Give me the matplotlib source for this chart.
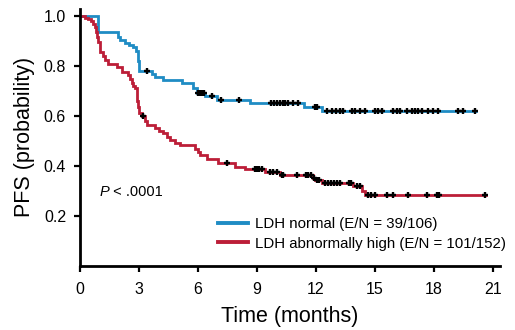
import numpy as np
import matplotlib
matplotlib.use("Agg")
import matplotlib.pyplot as plt
from matplotlib.lines import Line2D

plt.rcParams['font.family'] = ['Liberation Sans', 'DejaVu Sans']

# Kaplan-Meier step data: event times (months) and survival after each step
normal_times = [0, 0.93, 1.95, 2.05, 2.29, 2.5, 2.71, 2.85, 2.95, 3.02, 3.64, 3.81, 4.24,
                5.17, 5.76, 5.93, 6.36, 6.95, 8.64, 11.4, 12.29]
normal_surv = [1.0, 0.937, 0.915, 0.904, 0.893, 0.885, 0.877, 0.86, 0.82, 0.78, 0.768, 0.756, 0.744,
               0.731, 0.711, 0.693, 0.68, 0.664, 0.651, 0.637, 0.621]
normal_end = 20.15
normal_censor = [3.39, 6.0, 6.1, 6.2, 6.3, 6.7, 7.15, 8.1,
                 9.7, 9.85, 10.0, 10.15, 10.3, 10.45, 10.6, 10.85, 11.1, 11.95, 12.05,
                 12.54, 12.80, 13.02, 13.22, 13.39, 13.81, 13.98, 14.24, 14.49,
                 15.0, 15.17, 15.34, 15.93, 16.10, 16.27, 16.61, 16.86, 17.03, 17.2, 17.37,
                 17.71, 17.97, 18.22, 19.24, 19.46, 20.08]

high_times = [0, 0.25, 0.42, 0.55, 0.68, 0.75, 0.80, 0.85, 0.92, 1.02, 1.15, 1.27, 1.44,
              1.87, 2.12, 2.46, 2.55, 2.63, 2.72, 2.80, 2.88, 2.92, 2.96, 3.0, 3.14, 3.3,
              3.39, 3.81, 4.0, 4.24, 4.4, 4.58, 4.83, 5.1, 5.85, 6.0, 6.1, 6.44, 7.0, 7.88,
              8.39, 9.41, 10.17, 11.85, 11.95, 12.29, 13.9, 14.35, 14.49]
high_surv = [1.0, 0.993, 0.987, 0.98, 0.97, 0.955, 0.937, 0.915, 0.897, 0.857, 0.84, 0.824, 0.807,
             0.797, 0.777, 0.764, 0.75, 0.731, 0.72, 0.711, 0.69, 0.66, 0.635, 0.611, 0.60, 0.58,
             0.564, 0.551, 0.54, 0.531, 0.518, 0.504, 0.491, 0.484, 0.47, 0.457, 0.444, 0.427, 0.414, 0.397,
             0.387, 0.377, 0.364, 0.351, 0.344, 0.331, 0.32, 0.30, 0.284]
high_end = 20.65
high_censor = [3.2, 7.46, 8.9, 9.0, 9.1, 9.24, 9.66, 9.8, 10.0, 10.27, 10.34, 11.02, 11.5,
               11.6, 11.75, 11.9, 12.05, 12.15, 12.46, 12.6, 12.75, 12.9, 13.05, 13.22, 13.7,
               13.78, 14.07, 14.24, 14.66, 14.8, 15.0, 15.59, 15.93, 16.69, 17.63, 18.15,
               18.25, 20.59]

p_text = " < .0001"
labels = ["LDH normal (E/N = 39/106)", "LDH abnormally high (E/N = 101/152)"]
colors = ["#1f8cc4", "#bc1e38"]
x_ticks = [0, 3, 6, 9, 12, 15, 18, 21]
y_ticks = [0.2, 0.4, 0.6, 0.8, 1.0]


def surv_at(times, surv, t):
    idx = np.searchsorted(np.asarray(times), np.asarray(t), side="right") - 1
    return np.asarray(surv)[idx]


fig = plt.figure(figsize=(5.15, 3.30), dpi=100)
ax = fig.add_axes([80 / 515, 64 / 330, 420 / 515, 257.5 / 330])

series = [(normal_times, normal_surv, normal_end, normal_censor),
          (high_times, high_surv, high_end, high_censor)]
for (times, surv, end, cens), color in zip(series, colors):
    xs = list(times) + [end]
    ys = list(surv) + [surv[-1]]
    ax.step(xs, ys, where="post", color=color, lw=2.0, solid_joinstyle="miter", zorder=2)
    ax.plot(cens, surv_at(times, surv, cens), ls="none", marker="+", ms=5, mew=1.7,
            color="black", zorder=3)

ax.set_xlim(0, 21.36)
ax.set_ylim(0, 1.03)
ax.set_xticks(x_ticks)
ax.set_xticklabels([str(v) for v in x_ticks])
ax.set_yticks(y_ticks)
ax.set_yticklabels([f"{v:.1f}" for v in y_ticks])

for side in ("top", "right"):
    ax.spines[side].set_visible(False)
for side in ("left", "bottom"):
    ax.spines[side].set_linewidth(2.0)
ax.tick_params(axis="both", direction="out", length=4.5, width=1.6, labelsize=11.5)
ax.tick_params(axis="x", pad=7)
ax.tick_params(axis="y", pad=5.5)

ax.set_xlabel("Time (months)", fontsize=15.5, labelpad=6.5)
ax.set_ylabel("PFS (probability)", fontsize=15.5, labelpad=6)

p_txt = ax.text(1.0, 0.296, "P", fontsize=10.5, ha="left", va="center", style="italic")
ax.annotate(p_text, xy=(1, 0.5), xycoords=p_txt, ha="left", va="center", fontsize=10.5)

handles = [Line2D([], [], color=c, lw=2.8) for c in colors]
ax.legend(handles, labels, loc="center left", bbox_to_anchor=(0.3286, 0.124), frameon=False,
          fontsize=10.8, handlelength=2.0, handletextpad=0.47, labelspacing=0.35,
          borderaxespad=0, borderpad=0)

fig.savefig("out.png", dpi=100)
